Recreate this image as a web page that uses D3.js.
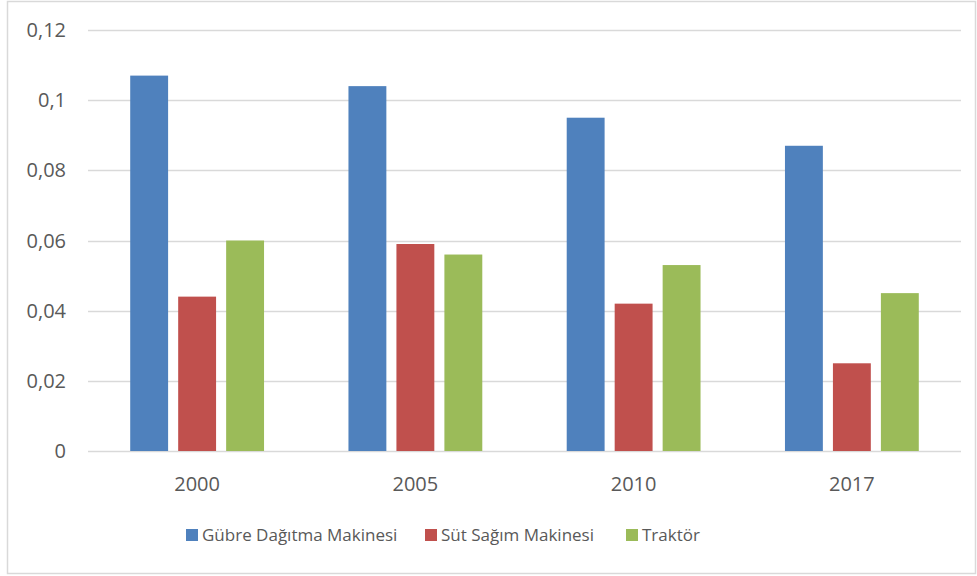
<!DOCTYPE html>
<html>
<head>
<meta charset="utf-8">
<script src="https://cdn.jsdelivr.net/npm/d3@7"></script>
<style>
  body { margin: 0; background: #fff; }
  text { font-family: "Open Sans", "Noto Sans", sans-serif; fill: #595959; }
</style>
</head>
<body>
<div id="chart"></div>
<script>
var years = ["2000", "2005", "2010", "2017"];
var seriesNames = ["Gübre Dağıtma Makinesi", "Süt Sağım Makinesi", "Traktör"];
var gubre = [0.107, 0.104, 0.095, 0.087];
var sut = [0.044, 0.059, 0.042, 0.025];
var traktor = [0.060, 0.056, 0.053, 0.045];
var yTicks = [0, 0.02, 0.04, 0.06, 0.08, 0.1, 0.12];
var colors = ["#4f81bd", "#c0504d", "#9bbb59"];

var allSeries = [gubre, sut, traktor];

var w = 977, h = 576;
var plotLeft = 88, plotRight = 961, plotTop = 30, plotBottom = 451;

var svg = d3.select("#chart").append("svg")
    .attr("width", w)
    .attr("height", h);

// chart border
svg.append("rect")
    .attr("x", 7.5).attr("y", 1.5)
    .attr("width", 968).attr("height", 572)
    .attr("fill", "none")
    .attr("stroke", "#d9d9d9")
    .attr("stroke-width", 1.5);

var y = d3.scaleLinear().domain([0, 0.12]).range([plotBottom, plotTop]);
var x0 = d3.scaleBand().domain(years).range([plotLeft, plotRight]);
var x1 = d3.scaleBand().domain(d3.range(3))
    .range([0, x0.bandwidth()])
    .paddingInner(0.21)
    .paddingOuter(0.88);

// gridlines
svg.selectAll(".grid")
    .data(yTicks)
    .enter().append("line")
    .attr("x1", plotLeft).attr("x2", plotRight)
    .attr("y1", function(d) { return Math.round(y(d)) + 0.5; })
    .attr("y2", function(d) { return Math.round(y(d)) + 0.5; })
    .style("stroke", "#d9d9d9")
    .style("stroke-width", 1.5);

// y labels
svg.selectAll(".ylab")
    .data(yTicks)
    .enter().append("text")
    .attr("x", 66)
    .attr("y", function(d) { return y(d); })
    .attr("dy", "0.35em")
    .attr("text-anchor", "end")
    .style("font-size", "20px")
    .text(function(d) { return String(d).replace(".", ","); });

// bars
var groups = svg.selectAll(".grp")
    .data(years)
    .enter().append("g")
    .attr("transform", function(d) { return "translate(" + x0(d) + ",0)"; });

groups.selectAll("rect")
    .data(function(d, i) { return allSeries.map(function(s, k) { return {k: k, v: s[i]}; }); })
    .enter().append("rect")
    .attr("x", function(d) { return x1(d.k); })
    .attr("width", x1.bandwidth())
    .attr("y", function(d) { return y(d.v); })
    .attr("height", function(d) { return plotBottom - y(d.v); })
    .attr("fill", function(d) { return colors[d.k]; });

// x labels
svg.selectAll(".xlab")
    .data(years)
    .enter().append("text")
    .attr("x", function(d) { return x0(d) + x0.bandwidth() / 2; })
    .attr("y", 491)
    .attr("text-anchor", "middle")
    .style("font-size", "20px")
    .text(function(d) { return d; });

// legend
var legendX = [186, 425, 626];
var legend = svg.selectAll(".leg")
    .data(seriesNames)
    .enter().append("g")
    .attr("transform", function(d, i) { return "translate(" + legendX[i] + ",529)"; });

legend.append("rect")
    .attr("width", 12).attr("height", 12)
    .attr("fill", function(d, i) { return colors[i]; });

legend.append("text")
    .attr("x", 16)
    .attr("y", 6)
    .attr("dy", "0.36em")
    .style("font-size", "17px")
    .text(function(d) { return d; });
</script>
</body>
</html>
